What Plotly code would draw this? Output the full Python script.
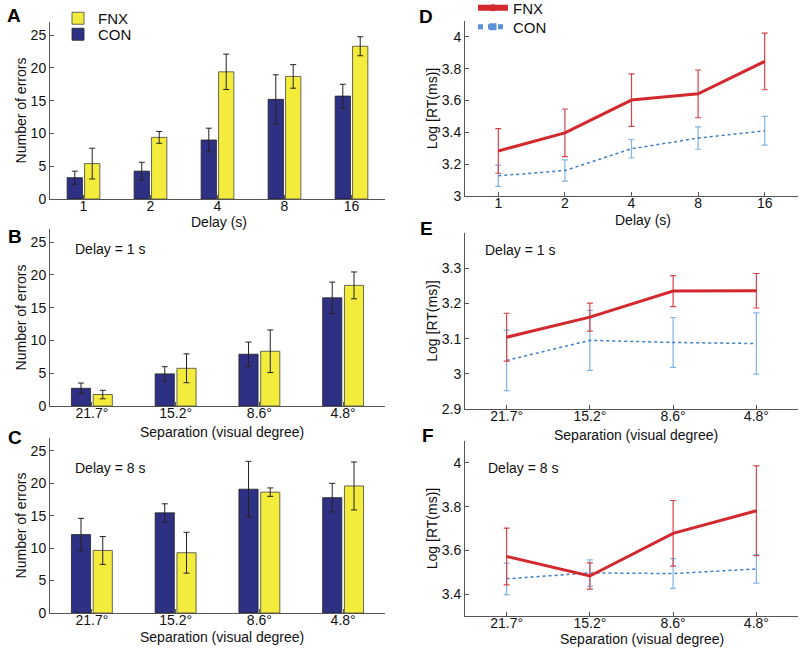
import plotly.graph_objects as go

# ---------------- data ----------------
delays = ["1", "2", "4", "8", "16"]
separations = ["21.7°", "15.2°", "8.6°", "4.8°"]

# Panel A: number of errors vs delay
a_con = [3.25, 4.25, 9.0, 15.2, 15.7]
a_con_err = [1.0, 1.35, 1.8, 3.75, 1.8]
a_fnx = [5.4, 9.4, 19.4, 18.7, 23.3]
a_fnx_err = [2.35, 0.9, 2.7, 1.8, 1.45]

# Panel B: delay = 1 s
b_con = [2.7, 4.9, 7.9, 16.5]
b_con_err = [0.8, 1.1, 1.85, 2.4]
b_fnx = [1.75, 5.75, 8.35, 18.4]
b_fnx_err = [0.65, 2.2, 3.25, 2.05]

# Panel C: delay = 8 s
c_con = [12.1, 15.45, 19.1, 17.8]
c_con_err = [2.5, 1.4, 4.3, 2.2]
c_fnx = [9.65, 9.3, 18.65, 19.6]
c_fnx_err = [2.15, 3.15, 0.65, 3.7]

# Panel D: log RT vs delay
d_fnx = [3.283, 3.397, 3.603, 3.642, 3.846]
d_fnx_err = [0.14, 0.15, 0.165, 0.15, 0.178]
d_con = [3.127, 3.16, 3.297, 3.364, 3.41]
d_con_err = [0.067, 0.067, 0.058, 0.07, 0.09]

# Panel E: delay = 1 s
e_fnx = [3.104, 3.161, 3.235, 3.236]
e_fnx_err = [0.068, 0.04, 0.044, 0.049]
e_con = [3.038, 3.095, 3.089, 3.086]
e_con_err = [0.086, 0.085, 0.071, 0.087]

# Panel F: delay = 8 s
f_fnx = [3.572, 3.483, 3.678, 3.781]
f_fnx_err = [0.13, 0.06, 0.15, 0.205]
f_con = [3.47, 3.497, 3.494, 3.515]
f_con_err = [0.072, 0.06, 0.068, 0.065]

# ---------------- style ----------------
FONT = "Liberation Sans, Arial, sans-serif"
NAVY = "#2e3183"
YELLOW = "#f3ec3c"
RED = "#d2282e"
RED_ERR = "#d4454b"
BLUE = "#3d7fc6"
BLUE_ERR = "#80b3e0"
AXIS = "#555555"
TXT = "#111111"
W, H = 800, 652

fig = go.Figure()


def bar_pair(xa, ya, cats, con, con_err, fnx, fnx_err, show):
    fig.add_trace(go.Bar(
        x=cats, y=con, name="CON", xaxis=xa, yaxis=ya,
        marker=dict(color=NAVY, line=dict(color="#222", width=0.8)),
        error_y=dict(type="data", array=con_err, color="#222", thickness=1, width=3),
        showlegend=show, legend="legend3"))
    fig.add_trace(go.Bar(
        x=cats, y=fnx, name="FNX", xaxis=xa, yaxis=ya,
        marker=dict(color=YELLOW, line=dict(color="#444", width=0.8)),
        error_y=dict(type="data", array=fnx_err, color="#222", thickness=1, width=3),
        showlegend=show, legend="legend"))


def line_pair(xa, ya, cats, fnx, fnx_err, con, con_err):
    fig.add_trace(go.Scatter(
        x=cats, y=con, mode="lines", xaxis=xa, yaxis=ya, showlegend=False,
        line=dict(color=BLUE, width=1.5, dash="dot"),
        error_y=dict(type="data", array=con_err, color=BLUE_ERR, thickness=1.2, width=3)))
    fig.add_trace(go.Scatter(
        x=cats, y=fnx, mode="lines", xaxis=xa, yaxis=ya, showlegend=False,
        line=dict(color=RED, width=3),
        error_y=dict(type="data", array=fnx_err, color=RED_ERR, thickness=1.2, width=3)))


bar_pair("x", "y", delays, a_con, a_con_err, a_fnx, a_fnx_err, True)
bar_pair("x2", "y2", separations, b_con, b_con_err, b_fnx, b_fnx_err, False)
bar_pair("x3", "y3", separations, c_con, c_con_err, c_fnx, c_fnx_err, False)
line_pair("x4", "y4", delays, d_fnx, d_fnx_err, d_con, d_con_err)
line_pair("x5", "y5", separations, e_fnx, e_fnx_err, e_con, e_con_err)
line_pair("x6", "y6", separations, f_fnx, f_fnx_err, f_con, f_con_err)

# legend-only entries for panel D
fig.add_trace(go.Scatter(x=[None], y=[None], mode="lines+markers", name="FNX",
                         xaxis="x4", yaxis="y4", legend="legend2",
                         line=dict(color=RED, width=6),
                         marker=dict(color=RED, size=7, symbol="circle")))
fig.add_trace(go.Scatter(x=[None], y=[None], mode="lines+markers", name="CON",
                         xaxis="x4", yaxis="y4", legend="legend4",
                         line=dict(color="#5b8fd6", width=5, dash="dot"),
                         marker=dict(color="#5b8fd6", size=7, symbol="square")))


def px_x(a, b):
    return [a / W, b / W]


def px_y(top, bottom):
    return [1 - bottom / H, 1 - top / H]


xdom_left = px_x(50, 385)
xdom_right = px_x(465, 798)
err_ticks = [0, 5, 10, 15, 20, 25]
err_text = ["0", "5", "10", "15", "20", "25"]
panels = [
    ("", xdom_left, px_y(22, 199), [-0.5, 4.5], [0, 27], err_ticks, err_text, "Number of errors"),
    ("2", xdom_left, px_y(229, 406), [-0.5, 3.5], [0, 27], err_ticks, err_text, "Number of errors"),
    ("3", xdom_left, px_y(438, 613), [-0.5, 3.5], [0, 27], err_ticks, err_text, "Number of errors"),
    ("4", xdom_right, px_y(21, 196), [-0.5, 4.5], [3, 4.1], [3, 3.2, 3.4, 3.6, 3.8, 4], ["3", "3.2", "3.4", "3.6", "3.8", "4"], "Log [RT(ms)]"),
    ("5", xdom_right, px_y(233, 409), [-0.5, 3.5], [2.9, 3.4], [2.9, 3.0, 3.1, 3.2, 3.3], ["2.9", "3", "3.1", "3.2", "3.3"], "Log [RT(ms)]"),
    ("6", xdom_right, px_y(441, 616), [-0.5, 3.5], [3.3, 4.1], [3.4, 3.6, 3.8, 4.0], ["3.4", "3.6", "3.8", "4"], "Log [RT(ms)]"),
]

layout = {}
for sfx, xd, yd, xr, yr, tv, tt, yt in panels:
    layout["xaxis" + sfx] = dict(
        domain=xd, anchor="y" + sfx, type="category", range=xr, automargin=False,
        showline=True, linecolor=AXIS, linewidth=1, mirror=False,
        ticks="inside", ticklen=4, tickcolor=AXIS, showgrid=False, zeroline=False,
        tickfont=dict(family=FONT, size=14, color=TXT), ticklabelstandoff=-6)
    layout["yaxis" + sfx] = dict(
        domain=yd, anchor="x" + sfx, range=yr, tickvals=tv, ticktext=tt, automargin=False,
        showline=True, linecolor=AXIS, linewidth=1, mirror=False,
        ticks="inside", ticklen=4, tickcolor=AXIS, showgrid=False, zeroline=False,
        tickfont=dict(family=FONT, size=14, color=TXT),
        title=dict(text=yt, font=dict(family=FONT, size=14, color=TXT), standoff=0))

annotations = []
for letter, x, y in [("A", 5, 16), ("B", 6, 236), ("C", 6, 437), ("D", 417, 17), ("E", 418, 228), ("F", 420, 435)]:
    annotations.append(dict(text="<b>" + letter + "</b>", x=x / W, y=1 - y / H, xref="paper", yref="paper",
                            xanchor="left", yanchor="middle", showarrow=False,
                            font=dict(family=FONT, size=19, color="#000")))
for txt, x, y in [("Delay = 1 s", 73, 249), ("Delay = 8 s", 73, 468), ("Delay = 1 s", 483, 250), ("Delay = 8 s", 486, 468)]:
    annotations.append(dict(text=txt, x=x / W, y=1 - y / H, xref="paper", yref="paper",
                            xanchor="left", yanchor="middle", showarrow=False,
                            font=dict(family=FONT, size=14, color=TXT)))
# x-axis titles
for txt, x, y in [("Delay (s)", 219, 222), ("Separation (visual degree)", 222, 432), ("Separation (visual degree)", 222, 637),
                  ("Delay (s)", 643, 220), ("Separation (visual degree)", 636, 435), ("Separation (visual degree)", 642, 639)]:
    annotations.append(dict(text=txt, x=x / W, y=1 - y / H, xref="paper", yref="paper",
                            xanchor="center", yanchor="middle", showarrow=False,
                            font=dict(family=FONT, size=14, color=TXT)))

leg_common = dict(xanchor="left", yanchor="middle", bgcolor="rgba(0,0,0,0)",
                  font=dict(family=FONT, size=15, color=TXT), tracegroupgap=0, itemwidth=30)

fig.update_layout(
    template="none",
    width=W, height=H, margin=dict(l=0, r=0, t=0, b=0, autoexpand=False),
    paper_bgcolor="white", plot_bgcolor="white",
    barmode="group", bargap=0.48, bargroupgap=0.12,
    font=dict(family=FONT, size=14, color=TXT),
    annotations=annotations,
    showlegend=True,
    legend=dict(x=58 / W, y=1 - 18.5 / H, **leg_common),
    legend3=dict(x=58 / W, y=1 - 34.5 / H, **leg_common),
    legend2=dict(x=473 / W, y=1 - 8 / H, **leg_common),
    legend4=dict(x=473 / W, y=1 - 27 / H, **leg_common),
    **layout,
)

fig.write_html("out.html", config={"displayModeBar": False},
               post_script="document.body.style.margin='0';document.body.style.overflow='hidden';")
